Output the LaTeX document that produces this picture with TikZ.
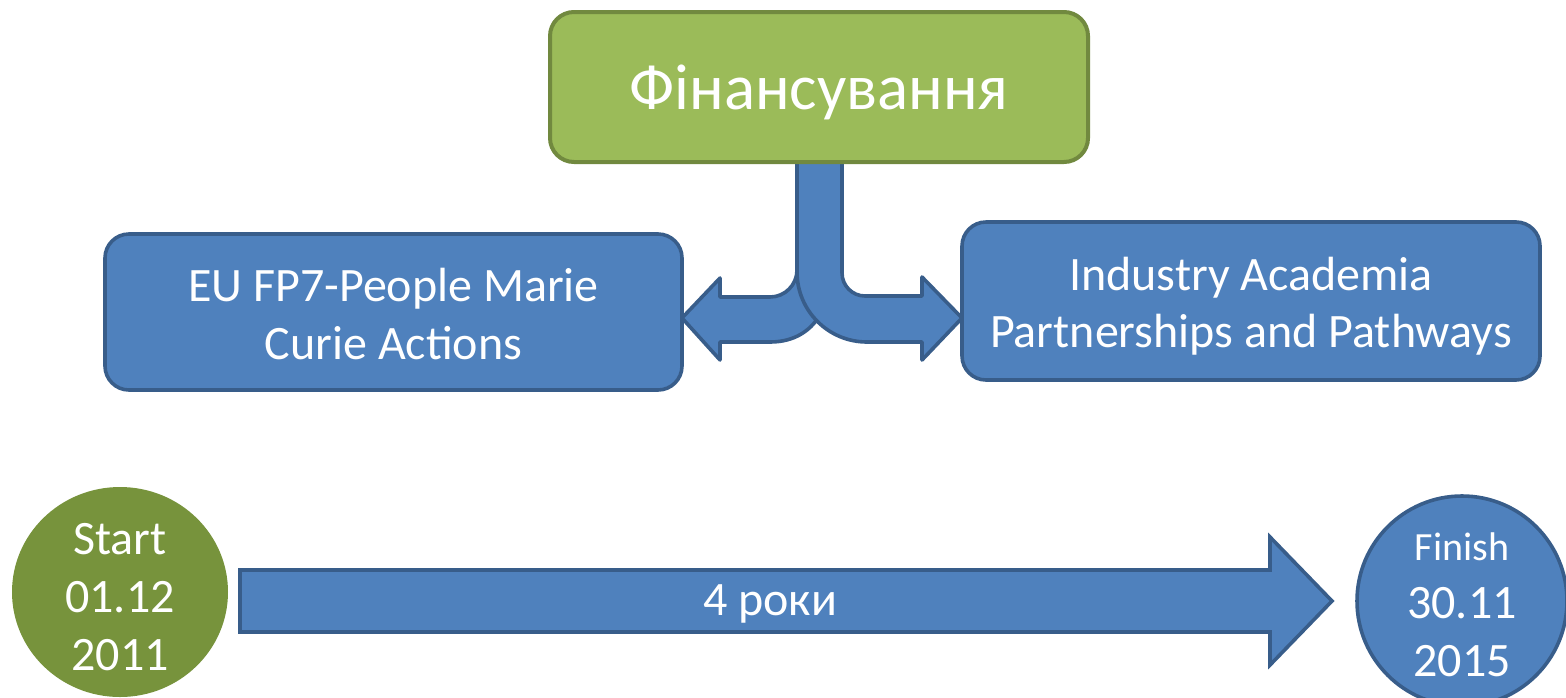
\documentclass[tikz,border=0pt]{standalone}
\usepackage{fontspec}
\setmainfont{Carlito}
\usetikzlibrary{shapes.geometric}
\definecolor{gfill}{HTML}{9BBB59}
\definecolor{gline}{HTML}{71893F}
\definecolor{gdark}{HTML}{77933C}
\definecolor{bfill}{HTML}{4F81BD}
\definecolor{bline}{HTML}{385D8A}
\tikzset{
  bluebox/.style={draw=bline, fill=bfill, line width=1.8pt, rounded corners=12pt, text=white, align=center, inner sep=0pt},
  greenbox/.style={draw=gline, fill=gfill, line width=2pt, rounded corners=12pt, text=white, align=center, inner sep=0pt},
  shapeblue/.style={draw=bline, fill=bfill, line width=1.8pt, line join=round},
  boxfont/.style={font=\fontsize{24}{28.8}\selectfont},
  circfont/.style={font=\fontsize{24}{29}\selectfont}
}
\begin{document}
\begin{tikzpicture}[x=0.5pt,y=-0.5pt]
\useasboundingbox (0,0) rectangle (1566,697);
% fork arrow: left branch (under)
\draw[shapeblue] (797,270) .. controls (797,284.9) and (784.9,297) .. (770,297)
  -- (720,297) -- (720,278) -- (682,318) -- (720,360) -- (720,342) -- (770,342)
  .. controls (795,342) and (810,330) .. (818,318) -- (840,300) -- cycle;
% fork arrow: stem and right branch
\draw[shapeblue] (797,158) -- (797,272)
  .. controls (797,310.7) and (828.3,342) .. (867,342)
  -- (922,342) -- (922,360) -- (962,318) -- (922,277) -- (922,296) -- (865,296)
  .. controls (852.3,296) and (842,285.7) .. (842,273) -- (842,158) -- cycle;
% boxes
\node[greenbox, minimum width=269pt, minimum height=75pt] (fin) at (819,87) {};
\node[text=white, font=\fontsize{32.4}{38}\selectfont] (fint) at (819,92) {Фінансування};
\node[bluebox, minimum width=288.5pt, minimum height=78pt] (eu) at (393.5,312) {};
\node[text=white, align=center, boxfont, inner sep=0pt] (eut) at (393.5,314) {EU FP7-People Marie\\Curie Actions};
\node[bluebox, minimum width=289pt, minimum height=79pt] (iapp) at (1251,301) {};
\node[text=white, align=center, boxfont, inner sep=0pt] (iappt) at (1251,306) {Industry Academia\\Partnerships and Pathways};
% timeline
\draw[shapeblue, line join=miter] (240,570) -- (1270,570) -- (1270,537) -- (1332,601) -- (1270,665) -- (1270,632) -- (240,632) -- cycle;
\node[text=white, boxfont] (dur) at (770,604) {4 роки};
\node[ellipse, fill=gdark, minimum width=108pt, minimum height=105pt, inner sep=0pt] (start) at (120,592) {};
\node[text=white, align=center, circfont, inner sep=0pt] (startt) at (120,597) {Start\\01.12\\2011};
\node[ellipse, draw=bline, fill=bfill, line width=1.8pt, minimum width=105pt, minimum height=105pt, inner sep=0pt] (finish) at (1462,601) {};
\node[text=white, align=center, circfont, inner sep=0pt] (finisht) at (1462,605) {{\fontsize{20}{24}\selectfont Finish}\\30.11\\2015};
\end{tikzpicture}
\end{document}
